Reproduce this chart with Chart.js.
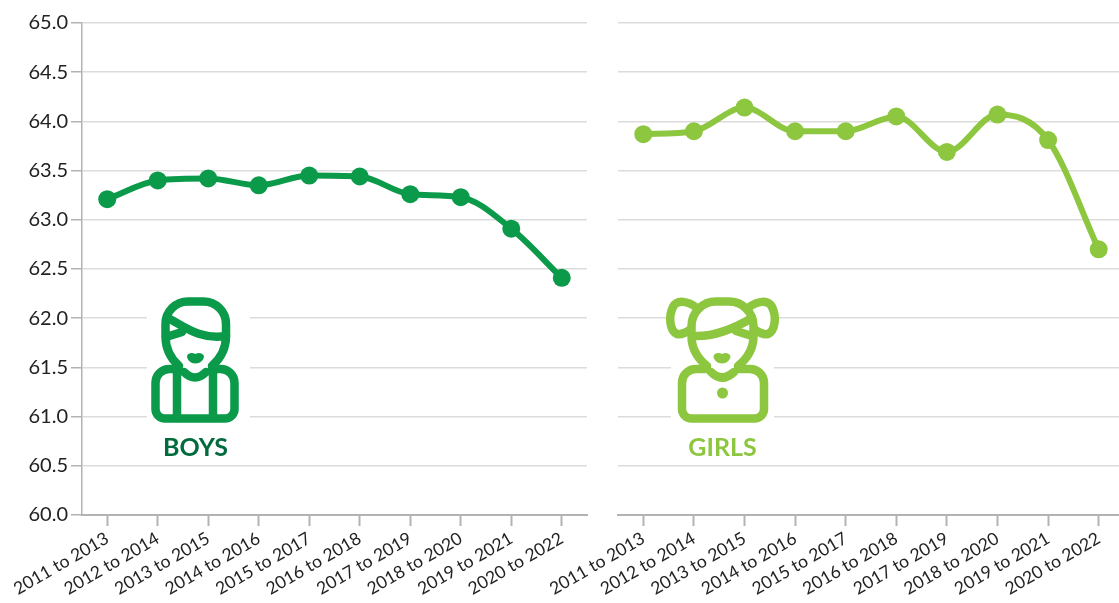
<!DOCTYPE html>
<html><head><meta charset="utf-8">
<style>
html,body{margin:0;padding:0;background:#fff;width:1119px;height:603px;overflow:hidden}
canvas{position:absolute;top:0;left:0}
svg{position:absolute;left:0;top:0}
text{font-family:Lato,sans-serif;font-weight:700;font-size:25px;text-anchor:middle}
</style>
<script src="https://cdn.jsdelivr.net/npm/chart.js@4"></script>
</head><body>
<div style="position:absolute;left:0;top:0;width:596px;height:603px"><canvas id="c1"></canvas></div>
<div style="position:absolute;left:518px;top:0;width:615px;height:603px"><canvas id="c2"></canvas></div>
<svg width="1119" height="603" fill="none" stroke-linecap="round" stroke-linejoin="round">
 <rect x="147" y="300" width="103" height="125" fill="#fff"/>
 <rect x="671" y="300" width="103" height="125" fill="#fff"/>
 <g stroke="#0a9a4a" stroke-width="8.500">
  <path d="M179 366C170 358 165.500 348 165.500 336V324a22.500 22.500 0 0 1 22.500-22.500h15.500a22.500 22.500 0 0 1 22.500 22.500v12C226 348 221 358 212 366"/>
  <path d="M168 318C185 327 200 340 226 336"/>
  <path d="M166 337L182 332"/>
  <path d="M179 369h-9.500a14 14 0 0 0-14 14v26a9.500 9.500 0 0 0 9.500 9.500h60a9.500 9.500 0 0 0 9.500-9.500v-26a14 14 0 0 0-14-14H212"/>
  <path d="M177 369v49M213 369v49M184 372q11 11 22 0"/>
 </g>
 <path d="M187 356c1-3 5-4 8.500-2c3-2 7-1 8.500 2c0 4-4 7.500-8.500 7.500s-8.500-3.500-8.500-7.500z" fill="#0a9a4a"/>
 <g stroke="#8dc63f" stroke-width="8.500">
  <path d="M707 366C697 358 691.500 348 691.500 336V326a24.500 24.500 0 0 1 24.500-24.500h13a24.500 24.500 0 0 1 24.500 24.500v10C753.500 348 748 358 738 366"/>
  <path d="M752 318C735 328 715 337 694 336"/>
  <path d="M736 331L752 336"/>
  <path d="M697 308C688 301 677 299 673 307C668 317 670 331 677 334C682 335 687 332 691 329"/>
  <path d="M748 308C757 301 768 299 772 307C777 317 775 331 768 334C763 335 758 332 754 329"/>
  <path d="M707 369h-11a14 14 0 0 0-14 14v26a9.500 9.500 0 0 0 9.500 9.500h63a9.500 9.500 0 0 0 9.500-9.500v-26a14 14 0 0 0-14-14H738"/>
  <path d="M711 372q11 11 23 0"/>
 </g>
 <path d="M713.500 356c1-3 5-4 8.500-2c3-2 7-1 8.500 2c0 4-4 7.500-8.500 7.500s-8.500-3.500-8.500-7.500z" fill="#8dc63f"/>
 <circle cx="722.500" cy="393" r="5.500" fill="#8dc63f"/>
 <text x="195.500" y="456" fill="#006b3c">BOYS</text>
 <text x="722.500" y="456" fill="#8dc63f">GIRLS</text>
</svg>
<script>
const categories=["2011 to 2013","2012 to 2014","2013 to 2015","2014 to 2016","2015 to 2017","2016 to 2018","2017 to 2019","2018 to 2020","2019 to 2021","2020 to 2022"];
const boys=[63.21,63.4,63.42,63.35,63.45,63.44,63.26,63.23,62.91,62.41];
const girls=[63.87,63.9,64.14,63.9,63.9,64.05,63.69,64.07,63.81,62.7];
const yMin=60,yMax=65,yStep=0.5;
const FONT="Lato, sans-serif";
function make(id,data,color,showY){
 new Chart(document.getElementById(id),{
  type:'line',
  data:{labels:categories,datasets:[{data,borderColor:color,backgroundColor:color,borderWidth:6,pointRadius:9,pointHoverRadius:9,pointBorderWidth:0,cubicInterpolationMode:'monotone',clip:false}]},
  options:{responsive:true,maintainAspectRatio:false,animation:false,
   layout:{padding:{top:23,left:0,right:0,bottom:0}},
   plugins:{legend:{display:false},tooltip:{enabled:false}},
   scales:{
    x:{offset:true,afterFit(s){s.height=88},
     grid:{display:true,drawOnChartArea:false,tickColor:'#b3b3b3',tickLength:11,tickWidth:2},
     border:{color:'#b3b3b3',width:2},
     ticks:{minRotation:30,maxRotation:30,color:'#222',font:{family:FONT,size:17.500},padding:2,autoSkip:false}},
    y:{min:yMin,max:yMax,afterFit(s){s.width=showY?82:100},
     grid:{color:'#dcdcdc',lineWidth:1.500,drawTicks:showY,tickLength:11,tickColor:'#b3b3b3',tickWidth:1.500},
     border:{display:showY,color:'#b3b3b3',width:1.500},
     ticks:{stepSize:yStep,display:showY,color:'#222',font:{family:FONT,size:20},padding:3,callback:v=>v.toFixed(1)}}
   }}
 });
}
make('c1',boys,'#0a9a4a',true);
make('c2',girls,'#8dc63f',false);
</script>
</body></html>
